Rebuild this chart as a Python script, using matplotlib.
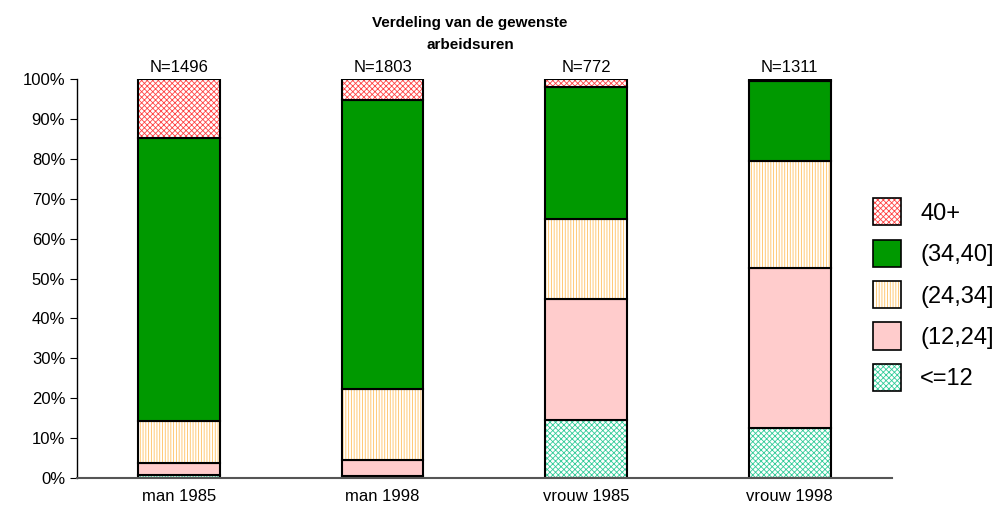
import numpy as np
import matplotlib.pyplot as plt
from matplotlib.patches import Patch
from matplotlib.ticker import FuncFormatter

plt.rcParams['font.family'] = ['Liberation Sans', 'DejaVu Sans']
plt.rcParams['hatch.linewidth'] = 0.6

# data (percent per group, bottom to top)
groups = ['man 1985', 'man 1998', 'vrouw 1985', 'vrouw 1998']
n_labels = ['N=1496', 'N=1803', 'N=772', 'N=1311']
cats = ['<=12', '(12,24]', '(24,34]', '(34,40]', '40+']
le12 = [0.7, 0.5, 14.5, 12.5]
h12_24 = [3.1, 4.0, 30.4, 40.1]
h24_34 = [10.5, 17.8, 20.0, 26.8]
h34_40 = [70.9, 72.4, 33.1, 20.1]
h40p = [14.8, 5.3, 2.0, 0.5]
values = [le12, h12_24, h24_34, h34_40, h40p]

# style per category: facecolor, hatch color, hatch
styles = [
    ('white', '#33cc99', 'xxxxxx'),
    ('#ffcccc', '#ffcccc', None),
    ('white', '#ffc060', '||||||'),
    ('#009900', '#009900', None),
    ('white', '#ff4444', 'xxxxxx'),
]

fig = plt.figure(figsize=(9.94, 5.17), dpi=100)
ax = fig.add_axes([0.0775, 0.0754, 0.8195, 0.7716])

x = np.arange(len(groups))
bottom = np.zeros(len(groups))
width = 0.4
for vals, (fc, hc, hatch) in zip(values, styles):
    ax.bar(x, vals, width, bottom=bottom, facecolor=fc, edgecolor=hc,
           hatch=hatch, linewidth=0)
    ax.bar(x, vals, width, bottom=bottom, facecolor='none',
           edgecolor='black', linewidth=1.5)
    bottom += np.array(vals)

for xi, lab in zip(x, n_labels):
    ax.text(xi, 101, lab, ha='center', va='bottom', fontsize=12)

ax.set_xlim(-0.5, len(groups) - 0.5)
ax.set_ylim(0, 100)
ax.set_yticks(np.arange(0, 101, 10))
ax.yaxis.set_major_formatter(FuncFormatter(lambda v, p: f'{v:.0f}%'))
ax.set_xticks(x)
ax.set_xticklabels(groups)
ax.tick_params(axis='x', length=0, labelsize=12, pad=8)
ax.tick_params(axis='y', labelsize=12, length=5, direction='out')
for s in ['top', 'right']:
    ax.spines[s].set_visible(False)
ax.spines['bottom'].set_color('#555555')
ax.spines['bottom'].set_linewidth(1.5)
ax.spines['left'].set_linewidth(1.0)

fig.text(0.473, 0.97, 'Verdeling van de gewenste\narbeidsuren', ha='center',
         va='top', fontsize=11, fontweight='bold', linespacing=1.8)

handles = []
for (fc, hc, hatch) in styles[::-1]:
    handles.append((Patch(facecolor=fc, edgecolor=hc, hatch=hatch, linewidth=0),
                    Patch(facecolor='none', edgecolor='black', linewidth=1.2)))
fig.legend(handles, cats[::-1], loc='center left', bbox_to_anchor=(0.857, 0.43),
           frameon=False, fontsize=17, handlelength=1.2, handleheight=1.4,
           labelspacing=0.6, handletextpad=0.8)

fig.savefig('out.png', dpi=100)
